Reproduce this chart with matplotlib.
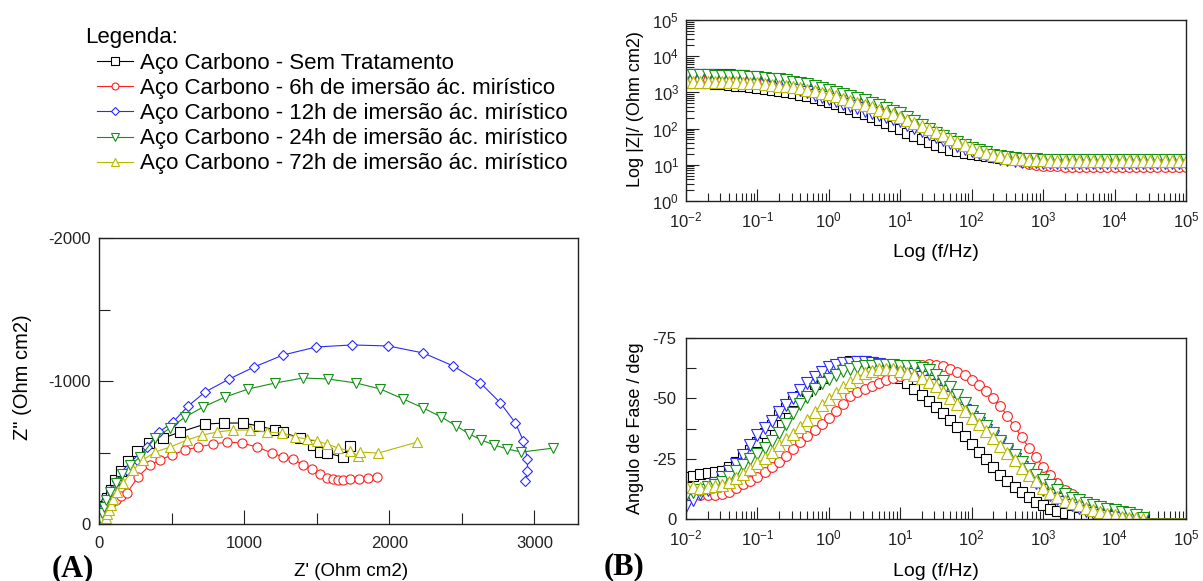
import matplotlib
matplotlib.use("Agg")
import matplotlib.pyplot as plt
from matplotlib.ticker import FixedLocator, LogLocator, NullFormatter

plt.rcParams['font.family'] = ['Liberation Sans', 'DejaVu Sans']
plt.rcParams['mathtext.default'] = 'regular'
plt.rcParams['axes.unicode_minus'] = False

# ---------------------------------------------------------------- series
SERIES_LABELS = [
    "Aço Carbono - Sem Tratamento",
    "Aço Carbono - 6h de imersão ác. mirístico",
    "Aço Carbono - 12h de imersão ác. mirístico",
    "Aço Carbono - 24h de imersão ác. mirístico",
    "Aço Carbono - 72h de imersão ác. mirístico",
]
COLORS = ["#000000", "#ff2020", "#2a2aff", "#159015", "#b8b800"]
NYQ_MARKERS = ["s", "o", "D", "v", "^"]
BODE_MARKERS = ["s", "o", "v", "v", "^"]

# ---------------------------------------------------------------- Nyquist (Ohm cm2)
zre_sem = [12, 15, 20, 28, 40, 58, 80, 110, 150, 200, 265, 345, 441, 559, 731, 862,
           993, 1103, 1214, 1269, 1386, 1476, 1524, 1572, 1683, 1731]
zim_sem = [-5, -20, -45, -80, -125, -180, -240, -305, -370, -440, -510, -565, -601, -643,
           -699, -706, -706, -685, -657, -640, -601, -552, -503, -496, -468, -545]

zre_6h = [5, 8, 12, 18, 27, 40, 58, 82, 115, 150, 193, 269, 352, 421, 503, 593, 683, 786,
          883, 986, 1090, 1193, 1269, 1338, 1407, 1469, 1524, 1572, 1614, 1648, 1683,
          1731, 1793, 1855, 1917]
zim_6h = [-5, -15, -30, -50, -72, -95, -120, -145, -170, -195, -217, -329, -413, -448,
          -483, -517, -538, -559, -573, -566, -538, -496, -470, -452, -413, -385, -350,
          -322, -315, -308, -308, -315, -315, -322, -329]

zre_12h = [8, 12, 20, 32, 50, 80, 124, 193, 262, 331, 410, 510, 614, 731, 897, 1069, 1269,
           1497, 1745, 1993, 2234, 2441, 2628, 2766, 2869, 2924, 2952, 2952, 2938]
zim_12h = [-10, -35, -75, -120, -170, -230, -300, -380, -448, -540, -640, -713, -825,
           -923, -1014, -1098, -1182, -1238, -1252, -1245, -1196, -1105, -986, -846,
           -706, -580, -454, -371, -301]

zre_24h = [8, 12, 20, 32, 50, 78, 115, 160, 215, 283, 386, 490, 593, 717, 869, 1028, 1214,
           1407, 1579, 1772, 1938, 2097, 2234, 2359, 2462, 2552, 2635, 2724, 2814, 2910,
           3131]
zim_24h = [-10, -35, -75, -120, -170, -225, -290, -350, -410, -469, -601, -671, -748,
           -818, -888, -944, -986, -1021, -1014, -986, -944, -874, -811, -748, -685,
           -629, -587, -552, -524, -503, -531]

zre_72h = [35, 38, 42, 48, 56, 66, 80, 98, 125, 166, 235, 303, 386, 490, 607, 710, 814,
           924, 1041, 1159, 1262, 1352, 1434, 1503, 1572, 1648, 1731, 1786, 1800, 1924,
           2193]
zim_72h = [-3, -12, -25, -45, -70, -100, -135, -175, -225, -287, -378, -448, -503, -538,
           -587, -622, -643, -657, -657, -643, -636, -608, -594, -580, -559, -531, -510,
           -476, -503, -496, -573]

# ---------------------------------------------------------------- Bode
FREQ_HZ = [
    1.00e-2, 1.26e-2, 1.58e-2, 2.00e-2, 2.51e-2, 3.16e-2, 3.98e-2, 5.01e-2, 6.31e-2, 7.94e-2,
    1.00e-1, 1.26e-1, 1.58e-1, 2.00e-1, 2.51e-1, 3.16e-1, 3.98e-1, 5.01e-1, 6.31e-1, 7.94e-1,
    1.00e0, 1.26e0, 1.58e0, 2.00e0, 2.51e0, 3.16e0, 3.98e0, 5.01e0, 6.31e0, 7.94e0,
    1.00e1, 1.26e1, 1.58e1, 2.00e1, 2.51e1, 3.16e1, 3.98e1, 5.01e1, 6.31e1, 7.94e1,
    1.00e2, 1.26e2, 1.58e2, 2.00e2, 2.51e2, 3.16e2, 3.98e2, 5.01e2, 6.31e2, 7.94e2,
    1.00e3, 1.26e3, 1.58e3, 2.00e3, 2.51e3, 3.16e3, 3.98e3, 5.01e3, 6.31e3, 7.94e3,
    1.00e4, 1.26e4, 1.58e4, 2.00e4, 2.51e4, 3.16e4, 3.98e4, 5.01e4, 6.31e4, 7.94e4,
    1.00e5,
]

# log10 |Z| (Ohm cm2)
log_z_sem = [
    3.28, 3.27, 3.26, 3.25, 3.24, 3.22, 3.21, 3.19, 3.17, 3.15,
    3.12, 3.10, 3.07, 3.04, 3.01, 2.97, 2.93, 2.89, 2.84, 2.79,
    2.74, 2.68, 2.61, 2.54, 2.47, 2.40, 2.32, 2.23, 2.15, 2.06,
    1.98, 1.89, 1.80, 1.71, 1.63, 1.55, 1.48, 1.42, 1.37, 1.33,
    1.30, 1.27, 1.24, 1.21, 1.19, 1.17, 1.16, 1.15, 1.15, 1.14,
    1.14, 1.14, 1.14, 1.14, 1.14, 1.14, 1.14, 1.14, 1.14, 1.14,
    1.14, 1.14, 1.14, 1.14, 1.14, 1.14, 1.14, 1.14, 1.14, 1.14,
    1.14]
log_z_6h = [
    3.36, 3.36, 3.36, 3.35, 3.35, 3.35, 3.34, 3.34, 3.33, 3.33,
    3.32, 3.31, 3.29, 3.28, 3.26, 3.24, 3.21, 3.18, 3.15, 3.11,
    3.07, 3.02, 2.97, 2.91, 2.85, 2.79, 2.73, 2.66, 2.59, 2.52,
    2.44, 2.33, 2.22, 2.11, 2.00, 1.91, 1.82, 1.73, 1.65, 1.57,
    1.49, 1.42, 1.35, 1.29, 1.23, 1.17, 1.12, 1.07, 1.03, 1.00,
    0.98, 0.97, 0.96, 0.95, 0.95, 0.94, 0.94, 0.94, 0.94, 0.94,
    0.94, 0.94, 0.94, 0.94, 0.94, 0.94, 0.94, 0.94, 0.94, 0.94,
    0.94]
log_z_12h = [
    3.49, 3.49, 3.49, 3.48, 3.48, 3.48, 3.47, 3.46, 3.45, 3.43,
    3.40, 3.36, 3.31, 3.26, 3.20, 3.14, 3.07, 3.00, 2.94, 2.87,
    2.81, 2.75, 2.68, 2.62, 2.56, 2.50, 2.44, 2.38, 2.32, 2.26,
    2.20, 2.11, 2.03, 1.94, 1.86, 1.78, 1.69, 1.61, 1.53, 1.45,
    1.38, 1.32, 1.26, 1.21, 1.17, 1.14, 1.11, 1.09, 1.08, 1.07,
    1.06, 1.05, 1.04, 1.04, 1.04, 1.04, 1.04, 1.04, 1.04, 1.04,
    1.04, 1.04, 1.04, 1.04, 1.04, 1.04, 1.04, 1.04, 1.04, 1.04,
    1.04]
log_z_24h = [
    3.48, 3.48, 3.47, 3.47, 3.46, 3.46, 3.45, 3.45, 3.44, 3.43,
    3.42, 3.40, 3.38, 3.36, 3.33, 3.30, 3.26, 3.22, 3.18, 3.13,
    3.08, 3.02, 2.96, 2.90, 2.84, 2.78, 2.71, 2.64, 2.57, 2.50,
    2.43, 2.32, 2.21, 2.10, 1.99, 1.89, 1.79, 1.70, 1.62, 1.54,
    1.47, 1.40, 1.34, 1.28, 1.24, 1.21, 1.19, 1.17, 1.16, 1.15,
    1.14, 1.13, 1.13, 1.13, 1.13, 1.13, 1.13, 1.13, 1.13, 1.13,
    1.13, 1.13, 1.13, 1.13, 1.13, 1.13, 1.13, 1.13, 1.13, 1.13,
    1.13]
log_z_72h = [
    3.30, 3.30, 3.30, 3.29, 3.29, 3.29, 3.28, 3.28, 3.27, 3.26,
    3.25, 3.23, 3.21, 3.19, 3.17, 3.14, 3.11, 3.07, 3.03, 2.99,
    2.95, 2.89, 2.83, 2.77, 2.71, 2.65, 2.59, 2.52, 2.46, 2.39,
    2.33, 2.24, 2.15, 2.06, 1.98, 1.90, 1.81, 1.72, 1.63, 1.54,
    1.46, 1.39, 1.33, 1.27, 1.23, 1.20, 1.17, 1.15, 1.14, 1.13,
    1.12, 1.11, 1.10, 1.10, 1.10, 1.10, 1.10, 1.10, 1.10, 1.10,
    1.10, 1.10, 1.10, 1.10, 1.10, 1.10, 1.10, 1.10, 1.10, 1.10,
    1.10]

# phase angle (deg)
phase_sem = [
    -17.5, -18.0, -18.5, -19.0, -19.5, -20.0, -21.5, -23.5, -25.5, -28.5,
    -32.0, -35.5, -39.0, -43.0, -46.0, -49.0, -51.0, -53.0, -56.0, -58.5,
    -61.0, -63.5, -65.0, -65.5, -65.5, -65.5, -65.0, -64.0, -62.5, -60.5,
    -58.5, -56.5, -54.0, -51.5, -49.0, -46.5, -44.0, -41.0, -38.0, -34.5,
    -31.0, -27.8, -25.0, -21.7, -18.3, -15.6, -13.2, -11.0, -9.0, -7.2,
    -5.8, -4.3, -3.2, -2.3, -1.5, -0.9, -0.5, -0.3, -0.2, -0.1,
    -0.1, 0.0, 0.0, 0.0, 0.0, 0.0, 0.0, 0.0, 0.0, 0.0,
    0.0]
phase_6h = [
    -10.5, -10.3, -10.0, -10.0, -10.0, -10.3, -11.2, -12.7, -14.3, -15.8,
    -17.5, -19.6, -21.6, -23.6, -26.3, -29.0, -31.7, -34.3, -37.0, -39.5,
    -42.0, -44.8, -47.8, -51.0, -52.8, -54.0, -55.0, -56.3, -57.4, -58.3,
    -59.2, -60.8, -62.5, -63.7, -64.3, -64.0, -63.2, -62.3, -61.0, -59.5,
    -57.7, -55.7, -53.0, -50.2, -46.8, -42.7, -38.4, -33.8, -29.6, -25.5,
    -21.7, -18.2, -14.9, -12.2, -10.2, -8.3, -6.8, -5.6, -4.5, -3.6,
    -2.7, -1.9, -1.3, -0.7, -0.2, 0.0, 0.0, 0.0, 0.0, 0.0,
    0.0]
phase_12h = [
    -5.5, -8.0, -10.2, -12.2, -14.8, -17.5, -20.0, -22.8, -26.5, -30.8,
    -35.0, -37.8, -40.8, -44.3, -47.2, -50.2, -53.4, -56.5, -59.0, -61.0,
    -62.8, -64.0, -64.5, -64.8, -65.0, -65.0, -64.6, -64.1, -63.5, -62.8,
    -62.0, -61.0, -60.0, -58.8, -57.3, -55.4, -53.2, -50.7, -48.0, -45.2,
    -42.3, -39.6, -37.0, -34.4, -31.4, -28.3, -25.0, -21.6, -18.2, -14.9,
    -12.1, -10.0, -8.4, -7.0, -5.6, -4.4, -3.3, -2.5, -1.8, -1.3,
    -0.9, -0.6, -0.4, -0.2, 0.0, 0.0, 0.0, 0.0, 0.0, 0.0,
    0.0]
phase_24h = [
    -10.0, -11.3, -12.2, -13.2, -14.2, -15.5, -17.6, -20.0, -22.3, -24.7,
    -27.0, -29.5, -32.3, -35.5, -39.2, -43.8, -47.5, -50.6, -53.8, -56.2,
    -58.0, -59.8, -61.2, -62.3, -63.0, -63.4, -63.6, -63.7, -63.7, -63.7,
    -63.6, -63.5, -63.2, -62.6, -61.6, -59.5, -57.0, -54.6, -51.4, -48.2,
    -44.6, -41.5, -38.6, -35.6, -32.2, -29.2, -26.4, -23.6, -20.8, -18.3,
    -16.1, -14.0, -12.0, -10.3, -8.9, -7.7, -6.6, -5.8, -5.0, -4.3,
    -3.6, -2.9, -2.3, -1.6, -0.5, 0.0, 0.0, 0.0, 0.0, 0.0,
    0.0]
phase_72h = [
    -13.5, -13.3, -13.0, -13.2, -13.6, -14.2, -15.4, -17.0, -18.8, -20.8,
    -23.0, -25.2, -27.8, -30.6, -33.3, -35.4, -38.2, -41.2, -44.3, -47.2,
    -49.8, -52.3, -54.5, -56.7, -58.8, -60.4, -61.5, -62.2, -62.3, -62.0,
    -61.4, -60.6, -59.6, -58.3, -56.8, -55.0, -52.8, -50.3, -47.6, -44.8,
    -42.0, -39.3, -36.4, -33.4, -30.3, -27.5, -24.4, -21.3, -18.3, -15.6,
    -13.0, -10.7, -9.0, -7.6, -6.6, -5.6, -4.6, -3.7, -2.9, -2.2,
    -1.5, -1.0, -0.6, -0.3, 0.0, 0.0, 0.0, 0.0, 0.0, 0.0,
    0.0]

# phase points above 2.5e4 Hz sit on the axis floor and carry no symbol
PHASE_MARKED = slice(0, 65)

NYQ_RE = [zre_sem, zre_6h, zre_12h, zre_24h, zre_72h]
NYQ_IM = [zim_sem, zim_6h, zim_12h, zim_24h, zim_72h]
LOG_Z = [log_z_sem, log_z_6h, log_z_12h, log_z_24h, log_z_72h]
PHASE = [phase_sem, phase_6h, phase_12h, phase_24h, phase_72h]

for arr in LOG_Z + PHASE:
    assert len(arr) == len(FREQ_HZ)

# ---------------------------------------------------------------- layout
W, H = 1203, 581
fig = plt.figure(figsize=(W / 100, H / 100), dpi=100)


def box(left, top, right, bottom):
    return [left / W, 1 - bottom / H, (right - left) / W, (bottom - top) / H]


ax_n = fig.add_axes(box(99, 238, 578, 524))
ax_m = fig.add_axes(box(686, 20, 1186, 201))
ax_p = fig.add_axes(box(686, 338, 1186, 519))

NYQ_MS = {"s": 7.0, "o": 6.6, "D": 5.2, "v": 7.6, "^": 7.6}
BODE_MS = {"s": 7.2, "o": 7.0, "v": 8.0, "^": 8.0}

handles = []
for re, im, c, m, lab in zip(NYQ_RE, NYQ_IM, COLORS, NYQ_MARKERS, SERIES_LABELS):
    h, = ax_n.plot(re, im, color=c, lw=0.8, marker=m, ms=NYQ_MS[m],
                   mfc="white", mec=c, mew=0.8, label=lab)
    handles.append(h)

for lz, ph, c, m in zip(LOG_Z, PHASE, COLORS, BODE_MARKERS):
    zmod = [10 ** v for v in lz]
    ax_m.plot(FREQ_HZ, zmod, color=c, lw=0.8, marker=m, ms=BODE_MS[m],
              mfc="white", mec=c, mew=0.8)
    ax_p.plot(FREQ_HZ, ph, color=c, lw=0.8, marker=m, ms=BODE_MS[m],
              mfc="white", mec=c, mew=0.8, markevery=PHASE_MARKED)

# ---------------------------------------------------------------- Nyquist axes
ax_n.set_xlim(0, 3300)
ax_n.set_ylim(0, -2000)
ax_n.xaxis.set_major_locator(FixedLocator([0, 1000, 2000, 3000]))
ax_n.xaxis.set_minor_locator(FixedLocator([500, 1500, 2500]))
ax_n.yaxis.set_major_locator(FixedLocator([0, -1000, -2000]))
ax_n.yaxis.set_minor_locator(FixedLocator([-500, -1500]))
ax_n.tick_params(which="both", direction="in", top=False, right=False,
                 width=0.8, colors="#222222", labelsize=12)
ax_n.tick_params(which="major", length=10)
ax_n.tick_params(which="minor", length=8)
ax_n.tick_params(axis="x", pad=9)
ax_n.tick_params(axis="y", pad=6)

# ---------------------------------------------------------------- Bode axes
for ax in (ax_m, ax_p):
    ax.set_xscale("log")
    ax.set_xlim(1e-2, 1e5)
    ax.xaxis.set_major_locator(LogLocator(base=10, numticks=20))
    ax.xaxis.set_minor_locator(LogLocator(base=10, subs=range(2, 10), numticks=100))
    ax.xaxis.set_minor_formatter(NullFormatter())
    ax.tick_params(which="both", direction="in", top=False, right=False,
                   width=0.8, colors="#222222", labelsize=12)
    ax.tick_params(which="major", length=9)
    ax.tick_params(which="minor", length=6)
    ax.tick_params(axis="x", pad=7)

ax_m.set_yscale("log")
ax_m.set_ylim(1, 1e5)
ax_m.yaxis.set_major_locator(LogLocator(base=10, numticks=20))
ax_m.yaxis.set_minor_locator(LogLocator(base=10, subs=range(2, 10), numticks=100))
ax_m.yaxis.set_minor_formatter(NullFormatter())
ax_m.tick_params(axis="y", pad=5)

ax_p.set_ylim(0, -75)
ax_p.yaxis.set_major_locator(FixedLocator([0, -25, -50, -75]))
ax_p.yaxis.set_minor_locator(FixedLocator([-12.5, -37.5, -62.5]))
ax_p.tick_params(axis="y", which="both", length=7, pad=7)

for ax in (ax_n, ax_m, ax_p):
    for sp in ax.spines.values():
        sp.set_linewidth(1.0)
        sp.set_color("#222222")

# ---------------------------------------------------------------- labels
def fig_text(x, y, s, **kw):
    fig.text(x / W, 1 - y / H, s, **kw)


fig_text(23, 377, 'Z" (Ohm cm2)', rotation=90, ha="center", va="center", fontsize=14.5)
fig_text(351, 572, "Z' (Ohm cm2)", ha="center", va="center", fontsize=13.5)
fig_text(636, 109, "Log |Z|/ (Ohm cm2)", rotation=90, ha="center", va="center", fontsize=13)
fig_text(936, 252, "Log (f/Hz)", ha="center", va="center", fontsize=14)
fig_text(636, 428, "Angulo de Fase / deg", rotation=90, ha="center", va="center", fontsize=13)
fig_text(936, 571, "Log (f/Hz)", ha="center", va="center", fontsize=14)

fig_text(52, 576, "(A)", ha="left", va="baseline", fontsize=22,
         family="Liberation Serif", weight="bold")
fig_text(604, 574, "(B)", ha="left", va="baseline", fontsize=22,
         family="Liberation Serif", weight="bold")

fig_text(85, 37, "Legenda:", ha="left", va="center", fontsize=16)
fig.legend(handles=handles, loc="upper left", bbox_to_anchor=(97 / W, 1 - 53 / H),
           frameon=False, fontsize=16, handlelength=1.6, handletextpad=0.35,
           labelspacing=0.185, borderpad=0, borderaxespad=0, markerscale=0.75)

fig.savefig("out.png", dpi=100)
